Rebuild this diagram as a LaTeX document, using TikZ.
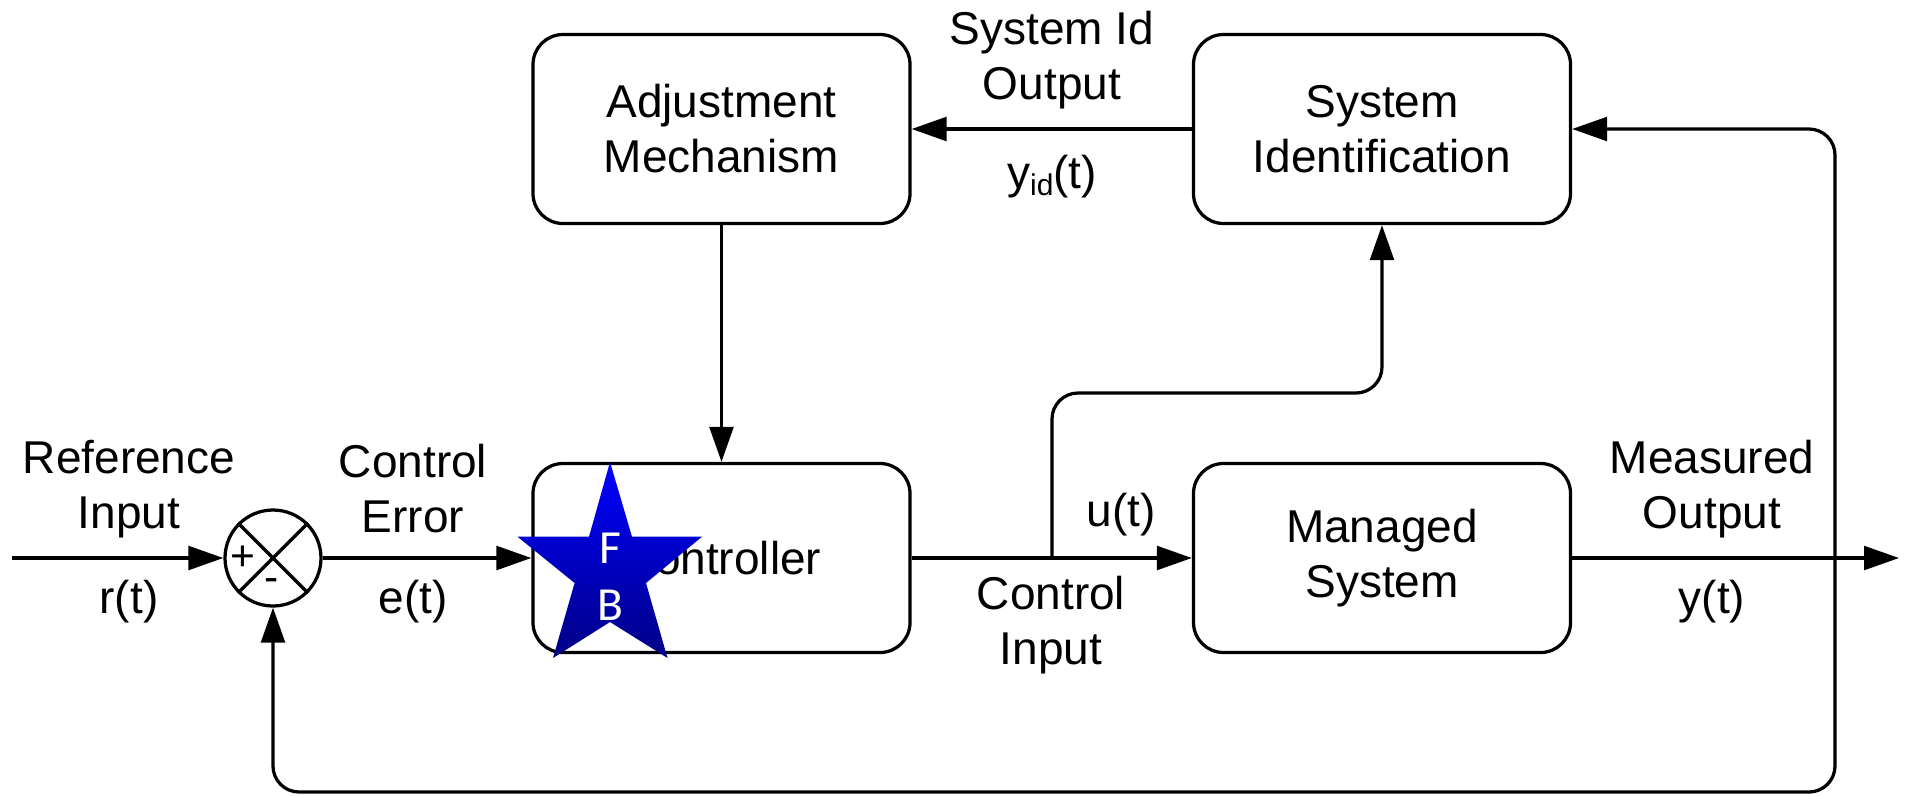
\documentclass[tikz,border=0pt]{standalone}
\usepackage{fontspec}
\setmainfont{Liberation Sans}
\newfontfamily\starfont{Carlito}
\usetikzlibrary{arrows.meta,calc}
\begin{document}
\begin{tikzpicture}[x=0.4pt,y=-0.4pt,
  line width=1.3pt,
  every node/.style={font=\fontsize{18.4pt}{22pt}\selectfont, inner sep=0pt},
  blk/.style={draw, rounded corners=12pt, minimum width=150.8pt, minimum height=75.6pt, align=center},
  lbl/.style={align=center},
  arr/.style={-{Triangle[length=14pt,width=9.5pt]}},
  wire/.style={rounded corners=10.4pt},
  sgn/.style={font=\fontsize{17pt}{17pt}\selectfont},
  startxt/.style={text=white, font=\starfont\fontsize{19pt}{19pt}\selectfont}]
\useasboundingbox (0,0) rectangle (1907,795);
% blocks
\node[blk] (adj) at (721.5,129) {Adjustment\\Mechanism};
\node[blk] (sysid) at (1382,129) {System\\Identification};
\node[blk] (ctrl) at (721.5,558) {Controller};
\node[blk] (mgr) at (1382,558) {Managed\\System};
% summing junction
\node[draw, circle, minimum size=38.4pt] (sum) at (273,558) {};
\draw (sum.north west) -- (sum.south east);
\draw (sum.north east) -- (sum.south west);
\node[sgn] (plus) at (243,558) {+};
\node[sgn] (minus) at (272,585) {-};
% coordinates
\coordinate (in) at (12,558);
\coordinate (out) at (1899,558);
\coordinate (br) at (1052,558);
\coordinate (brt) at (1052,393);
\coordinate (tap) at (1835,558);
\coordinate (fbb) at (1835,792);
% connectors
\draw[arr] (in) -- (sum.west);
\draw[arr] (sum.east) -- (ctrl.west);
\draw[arr] (ctrl.east) -- (mgr.west);
\draw[arr] (mgr.east) -- (out);
\draw[arr,wire] (br) -- (brt) -- (brt -| sysid.south) -- (sysid.south);
\draw[arr] (sysid.west) -- (adj.east);
\draw[arr] (adj.south) -- (ctrl.north);
\draw[arr,wire] (tap) -- (tap |- sysid.east) -- (sysid.east);
\draw[arr,wire] (tap) -- (fbb) -- (fbb -| sum.south) -- (sum.south);
% labels
\node[lbl] (refin) at (129,489) {Reference\\Input};
\node (rt) at (129,602) {r(t)};
\node[lbl] (cerr) at (413,489) {Control\\Error};
\node (et) at (413,602) {e(t)};
\node (ut) at (1121,515) {u(t)};
\node[lbl] (cin) at (1051,625) {Control\\Input};
\node[lbl] (mout) at (1712,489) {Measured\\Output};
\node (yt) at (1712,602) {y(t)};
\node[lbl] (sido) at (1052,60) {System Id\\Output};
\node (yid) at (1052,177) {y{\fontsize{12pt}{12pt}\selectfont\raisebox{-2.5pt}{id}}(t)};
% star stamp
\shade[top color=blue, middle color=blue, bottom color={rgb,255:red,0;green,0;blue,135}]
  (610,462) -- (632,536.7) -- (702,536.7) -- (646,583) -- (667.5,658) -- (610,622)
  -- (553,658) -- (574.6,583) -- (517.5,536.7) -- (589,536.7) -- cycle;
\node[startxt] (sf) at (610,548) {F};
\node[startxt] (sb) at (610,605) {B};
\end{tikzpicture}
\end{document}
